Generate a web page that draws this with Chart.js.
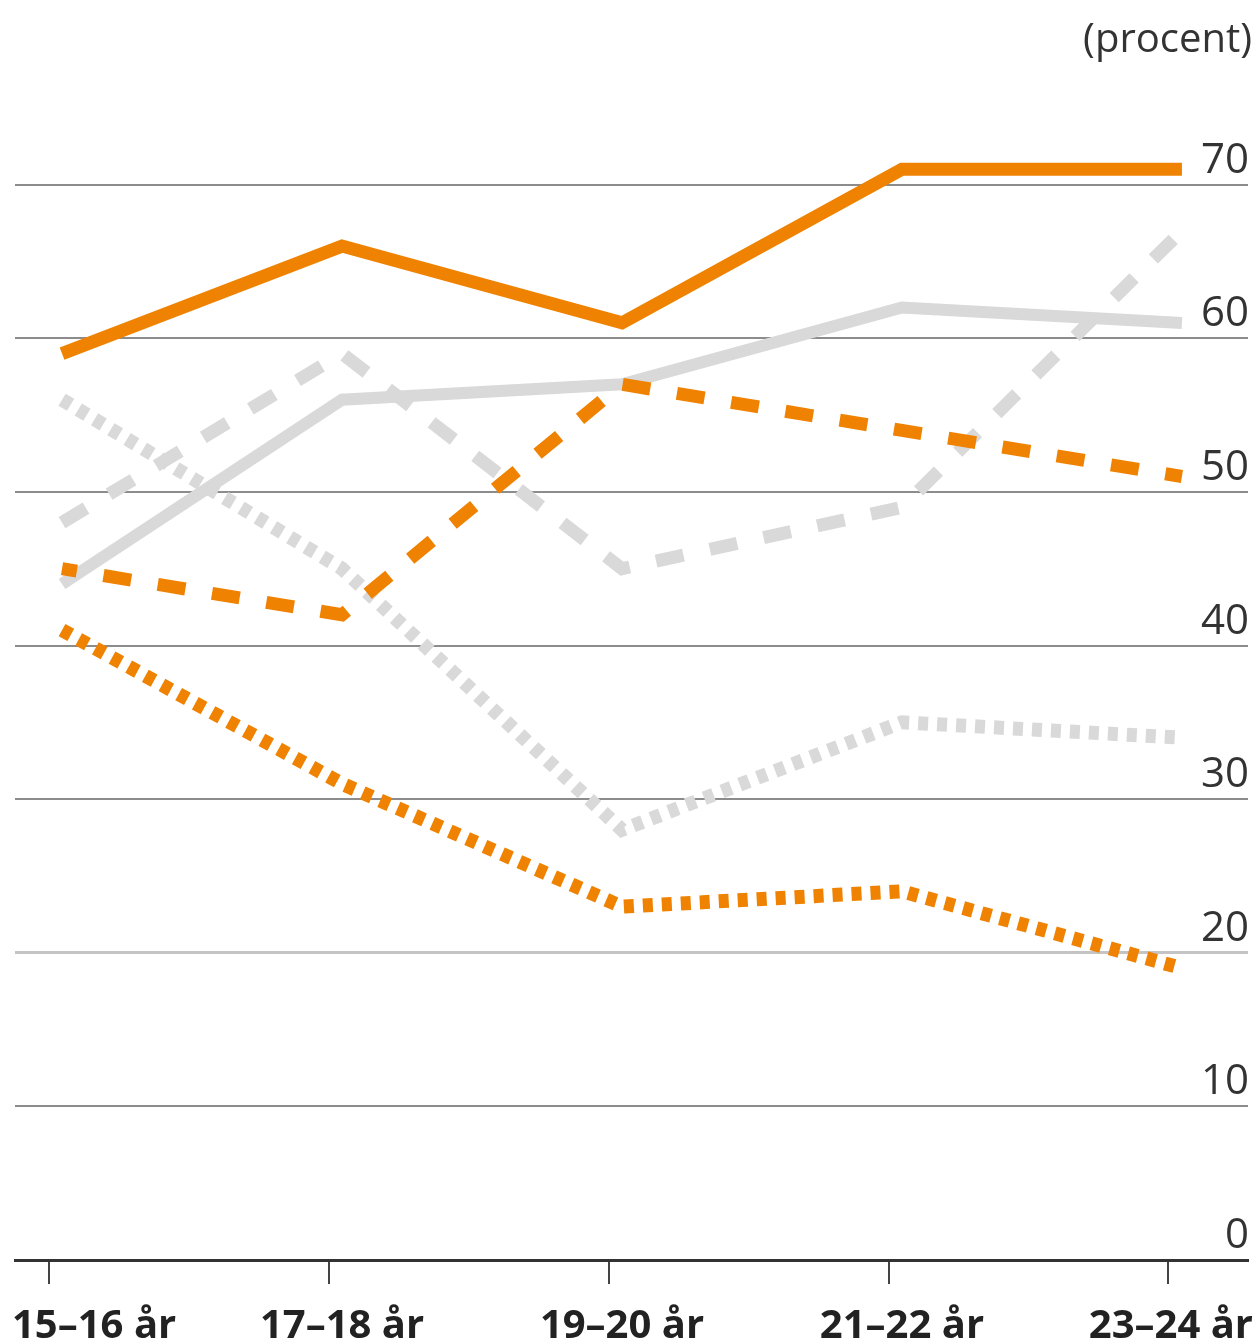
<!DOCTYPE html>
<html>
<head>
<meta charset="utf-8">
<script src="https://cdn.jsdelivr.net/npm/chart.js@4.4.1/dist/chart.umd.min.js"></script>
<style>
html, body { margin: 0; padding: 0; background: #fff; }
#wrap { width: 1259px; height: 1344px; position: relative; }
</style>
</head>
<body>
<div id="wrap"><canvas id="myChart"></canvas></div>
<script>
// åldersgrupper och skalsteg
var ageGroups = ['15–16 år', '17–18 år', '19–20 år', '21–22 år', '23–24 år'];
var yTicks = [0, 10, 20, 30, 40, 50, 60, 70];

// serier (procent)
var orangeSolid  = [59, 66, 61, 71, 71];
var orangeDashed = [45, 42, 57, 54, 51];
var orangeDotted = [41, 31, 23, 24, 19];
var greySolid    = [44, 56, 57, 62, 61];
var greyDashed   = [48, 59, 45, 49, 67];
var greyDotted   = [56, 45, 28, 35, 34];

var ORANGE = '#ef8200';
var GREY = '#d9d9d9';

function pts(arr) {
    return arr.map(function (v, i) { return { x: i, y: v }; });
}

// text: y-etiketter ovanför linjerna, (procent) och x-etiketter
var textPlugin = {
    id: 'texts',
    afterDraw: function (chart) {
        var c = chart.ctx, xs = chart.scales.x, ys = chart.scales.y;
        var right = chart.width;
        c.save();
        c.fillStyle = '#333';
        c.textBaseline = 'alphabetic';
        c.textAlign = 'right';
        c.font = '42px "Open Sans"';
        yTicks.forEach(function (v) {
            c.fillText(String(v), right - 10, ys.getPixelForValue(v) - 12);
        });
        c.font = '40px "Open Sans"';
        c.fillText('(procent)', right - 7, 52);

        c.font = 'bold 40px "Open Sans"';
        c.fillStyle = '#222';
        c.textAlign = 'left';
        ageGroups.forEach(function (lab, i) {
            var w = c.measureText(lab).width;
            var cx = xs.getPixelForValue(i);
            var left = Math.min(Math.max(cx - w / 2, 12), right - 6 - w);
            c.fillText(lab, left, xs.top + 78);
        });
        c.restore();
    }
};

var ctx = document.getElementById('myChart').getContext('2d');
var myChart = new Chart(ctx, {
    type: 'line',
    data: {
        datasets: [
            { data: pts(orangeSolid), borderColor: ORANGE, borderWidth: 13 },
            { data: pts(orangeDashed), borderColor: ORANGE, borderWidth: 13, borderDash: [28, 27], borderDashOffset: 13 },
            { data: pts(orangeDotted), borderColor: ORANGE, borderWidth: 14, borderDash: [10, 9] },
            { data: pts(greySolid), borderColor: GREY, borderWidth: 12 },
            { data: pts(greyDashed), borderColor: GREY, borderWidth: 13, borderDash: [28, 27] },
            { data: pts(greyDotted), borderColor: GREY, borderWidth: 14, borderDash: [10, 9] }
        ]
    },
    options: {
        responsive: true,
        maintainAspectRatio: false,
        animation: false,
        layout: { padding: { left: 15, right: 11, top: 31, bottom: 60 } },
        plugins: { legend: { display: false }, tooltip: { enabled: false } },
        elements: {
            point: { radius: 0 },
            line: { tension: 0, borderCapStyle: 'butt', borderJoinStyle: 'miter', fill: false }
        },
        scales: {
            x: {
                type: 'linear',
                min: -0.168,
                max: 4.236,
                afterBuildTicks: function (s) {
                    s.ticks = ageGroups.map(function (_, i) { return { value: i - 0.048 }; });
                },
                ticks: { display: false },
                grid: { drawOnChartArea: false, drawTicks: true, tickLength: 24, color: '#444', lineWidth: 2 },
                border: { display: true, color: '#333', width: 3 }
            },
            y: {
                min: 0,
                max: 80,
                afterBuildTicks: function (s) {
                    s.ticks = yTicks.map(function (v) { return { value: v }; });
                },
                ticks: { display: false },
                grid: {
                    drawTicks: false,
                    lineWidth: function (c) { return c.tick && c.tick.value === 20 ? 3 : 2; },
                    color: function (c) {
                        if (!c.tick) return '#8c8c8c';
                        if (c.tick.value === 0) return 'rgba(0,0,0,0)';
                        if (c.tick.value === 20) return '#c4c4c4';
                        return '#8c8c8c';
                    }
                },
                border: { display: false }
            }
        }
    },
    plugins: [textPlugin]
});
</script>
</body>
</html>
